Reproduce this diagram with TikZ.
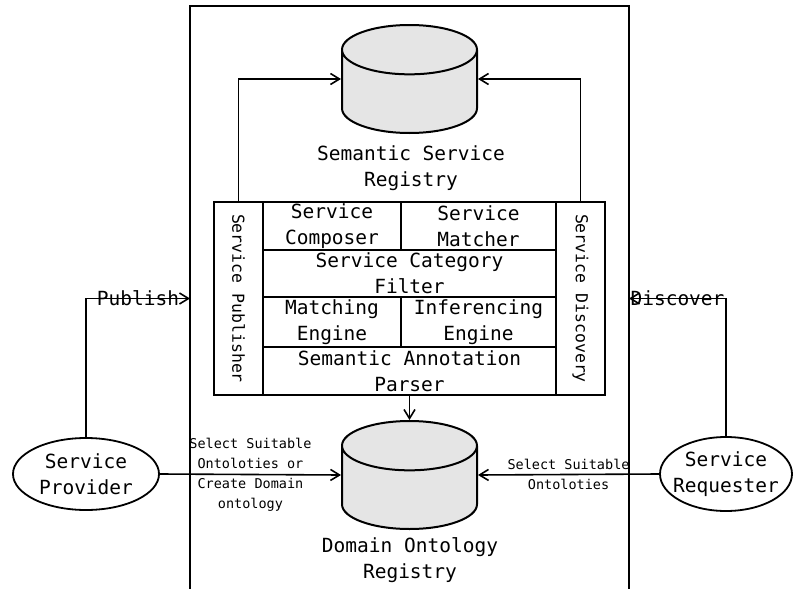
\documentclass[tikz,border=0pt]{standalone}
\usepackage{fontspec}
\setmonofont{DejaVu Sans Mono}
\usetikzlibrary{shapes.geometric,arrows.meta}
\newcommand{\bigtxt}{\ttfamily\fontsize{19.5}{26}\selectfont}
\newcommand{\smalltxt}{\ttfamily\fontsize{13.5}{20}\selectfont}
\newcommand{\sidetxt}{\ttfamily\fontsize{16.5}{20}\selectfont}

\begin{document}
\begin{tikzpicture}[x=1pt, y=-1pt,
    cell/.style={draw, line width=1.8pt, inner sep=0pt, align=center, font=\bigtxt},
    side/.style={draw, line width=1.8pt, inner sep=0pt, minimum width=49pt, minimum height=193pt},
    db/.style={cylinder, shape border rotate=90, draw, line width=2pt, aspect=7.4, minimum width=135pt, minimum height=108pt, cylinder uses custom fill, cylinder body fill=black!10, cylinder end fill=black!10, anchor=shape center},
    actor/.style={draw, ellipse, line width=1.8pt, inner sep=0pt},
    flow/.style={-{Straight Barb[length=9pt,width=11pt]}, line width=1.6pt}]
    \useasboundingbox (0,0) rectangle (796,589);

    \coordinate (fl) at (190,6);
    \coordinate (fr) at (629,6);
    \draw[line width=2.2pt] (190,589) -- (fl) -- (fr) -- (629,589);

    \node[db] (srr) at (409.5,79) {};
    \node[font=\bigtxt, align=center] (srrtxt) at (411,168) {Semantic Service\\Registry};
    \node[db] (dor) at (409.5,475) {};
    \node[font=\bigtxt, align=center] (dortxt) at (410,560) {Domain Ontology\\Registry};

    \node[side] (pub) at (238.5,298.5) {\rotatebox{-90}{\sidetxt Service Publisher}};
    \node[side] (disc) at (580.5,298.5) {\rotatebox{-90}{\sidetxt Service Discovery}};
    \node[cell, minimum width=138pt, minimum height=48pt] (comp) at (332,226) {Service\\Composer};
    \node[cell, minimum width=155pt, minimum height=48pt] (match) at (478.5,226) {Service\\Matcher};
    \node[cell, minimum width=293pt, minimum height=47pt] (filter) at (409.5,273.5) {Service Category\\Filter};
    \node[cell, minimum width=138pt, minimum height=50pt] (meng) at (332,322) {Matching\\Engine};
    \node[cell, minimum width=155pt, minimum height=50pt] (ieng) at (478.5,322) {Inferencing\\Engine};
    \node[cell, minimum width=293pt, minimum height=48pt] (parser) at (409.5,371) {Semantic Annotation\\Parser};

    \node[actor, minimum width=146pt, minimum height=72pt,
      label={[font=\bigtxt, align=center]center:Service\\Provider}] (prov) at (86,474) {};
    \node[actor, minimum width=132pt, minimum height=74pt,
      label={[font=\bigtxt, align=center]center:Service\\Requester}] (req) at (726,474) {};

    \draw[flow] (pub.north) |- (srr.shape center -| srr.west);
    \draw[flow] (disc.north) |- (srr.shape center -| srr.east);
    \draw[flow] (parser.south) -- (dor.north);
    \draw[flow] (prov.east) -- node[font=\smalltxt, align=center] {Select Suitable\\Ontoloties or\\Create Domain\\ontology} (dor.shape center -| dor.west);
    \draw[flow] (req.west) -- node[font=\smalltxt, align=center] {Select Suitable\\Ontoloties} (dor.shape center -| dor.east);
    \draw[flow] (prov.north) |- node[pos=0.75, font=\bigtxt] {Publish} (pub -| fl);
    \draw[flow] (req.north) |- node[pos=0.75, font=\bigtxt] {Discover} (disc -| fr);
\end{tikzpicture}
\end{document}
